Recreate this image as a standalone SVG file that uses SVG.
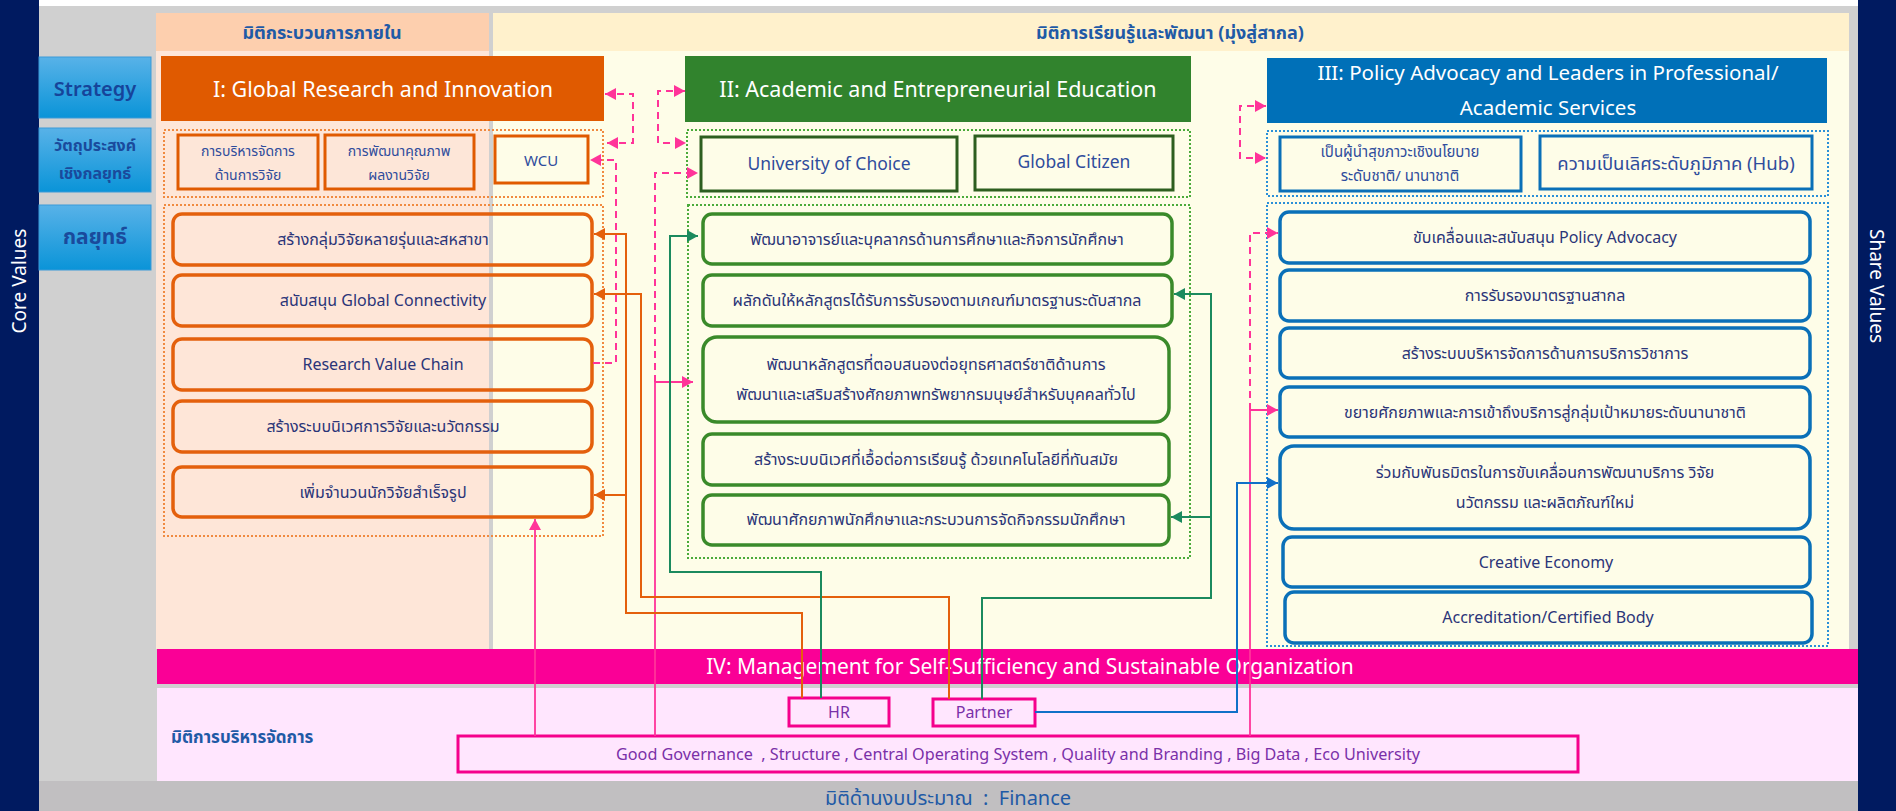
<svg xmlns="http://www.w3.org/2000/svg" width="1896" height="811" viewBox="0 0 1896 811">
<style>
text{font-family:"Noto Sans","Noto Sans Thai","Leelawadee UI",Tahoma,sans-serif;text-anchor:middle;dominant-baseline:central}
.hdr{fill:#1f5aa6;font-size:18px;font-weight:bold}
.lbl{fill:#1a4a9c;font-weight:bold}
.side{fill:#ffffff;font-size:19px}
.head{fill:#ffffff;font-size:21.5px}
.bx{font-size:16px;fill:#2b3578}
.ob{font-size:14px;fill:#2f4c9c}
.obo{fill:#fde6d8;stroke:#e05a00;stroke-width:3}
.obg{fill:#fefde8;stroke:#2d5e1f;stroke-width:3}
.obb{fill:#fefde8;stroke:#0a70b8;stroke-width:3}
.so{fill:none;stroke:#e4600c;stroke-width:3.5}
.sg{fill:none;stroke:#3a8a2a;stroke-width:3.5}
.sb{fill:none;stroke:#0a70b8;stroke-width:3.5}
.dto{fill:none;stroke:#f08a40;stroke-width:2;stroke-dasharray:2 2}
.dtg{fill:none;stroke:#4aaa3a;stroke-width:2;stroke-dasharray:2 2}
.dtb{fill:none;stroke:#2a90d8;stroke-width:2;stroke-dasharray:2 2}
.pk{fill:#ffe6fe;stroke:#f5008c;stroke-width:3}
.pt{font-size:16px;fill:#7a30a8}
.cpd{fill:none;stroke:#ff3399;stroke-width:2;stroke-dasharray:7 5}
.cps{fill:none;stroke:#ff3399;stroke-width:1.8}
.co{fill:none;stroke:#e4600c;stroke-width:2}
.cg{fill:none;stroke:#1b8a5e;stroke-width:2}
.cb{fill:none;stroke:#1070c8;stroke-width:2}
</style>
<defs>
<linearGradient id="lblg" x1="0" y1="0" x2="0" y2="1"><stop offset="0" stop-color="#58b2e8"/><stop offset="1" stop-color="#0a94d8"/></linearGradient>
<marker id="aP" markerUnits="userSpaceOnUse" markerWidth="12" markerHeight="12" refX="11" refY="6" orient="auto-start-reverse"><path d="M0,0 L11,6 L0,12 z" fill="#ff3399"/></marker>
<marker id="aO" markerUnits="userSpaceOnUse" markerWidth="12" markerHeight="12" refX="11" refY="6" orient="auto"><path d="M0,0 L11,6 L0,12 z" fill="#e4600c"/></marker>
<marker id="aG" markerUnits="userSpaceOnUse" markerWidth="12" markerHeight="12" refX="11" refY="6" orient="auto"><path d="M0,0 L11,6 L0,12 z" fill="#1b8a5e"/></marker>
<marker id="aB" markerUnits="userSpaceOnUse" markerWidth="12" markerHeight="12" refX="11" refY="6" orient="auto"><path d="M0,0 L11,6 L0,12 z" fill="#1070c8"/></marker>
</defs>

<!-- backgrounds -->
<rect x="0" y="0" width="1896" height="811" fill="#d0d0d0"/>
<rect x="39" y="0" width="1820" height="6" fill="#ffffff"/>
<rect x="39" y="781" width="1820" height="30" fill="#c1bfc1"/>
<rect x="0" y="0" width="39" height="811" fill="#001a60"/>
<rect x="1858" y="0" width="38" height="811" fill="#001a60"/>

<g id="dim-internal">
<rect x="156" y="13" width="333" height="38" fill="#fdcfae"/>
<rect x="156" y="51" width="333" height="598" fill="#fee6d8"/>
<text class="hdr" x="322" y="32">มิติกระบวนการภายใน</text>
</g>
<g id="dim-learning">
<rect x="493" y="13" width="1356" height="38" fill="#fff1cc"/>
<rect x="493" y="51" width="1356" height="598" fill="#fefde8"/>
<text class="hdr" x="1170" y="32">มิติการเรียนรู้และพัฒนา (มุ่งสู่สากล)</text>
</g>

<g id="side-core"><text class="side" transform="translate(19,281) rotate(-90)">Core Values</text></g>
<g id="side-share"><text class="side" transform="translate(1877,286) rotate(90)">Share Values</text></g>

<g id="lbl-strategy"><rect x="39" y="57" width="112" height="61" fill="url(#lblg)" stroke="#3a9ad8"/><text class="lbl" x="95" y="88" style="font-size:20px;font-weight:600;fill:#16449a">Strategy</text></g>
<g id="lbl-objective"><rect x="39" y="128" width="112" height="64" fill="url(#lblg)" stroke="#3a9ad8"/><text class="lbl" x="95" y="145" style="font-size:16px">วัตถุประสงค์</text><text class="lbl" x="95" y="173" style="font-size:16px">เชิงกลยุทธ์</text></g>
<g id="lbl-tactic"><rect x="39" y="205" width="112" height="65" fill="url(#lblg)" stroke="#3a9ad8"/><text class="lbl" x="95" y="236" style="font-size:21px">กลยุทธ์</text></g>

<!-- Strategy I -->
<g id="s1-head"><rect x="161" y="56" width="443" height="65" fill="#e05a00"/><text class="head" x="383" y="88">I: Global Research and Innovation</text></g>
<rect class="dto" x="164" y="130" width="439" height="67"/>
<g id="s1-o1"><rect class="obo" x="178" y="135" width="140" height="54"/><text class="ob" x="248" y="150">การบริหารจัดการ</text><text class="ob" x="248" y="174">ด้านการวิจัย</text></g>
<g id="s1-o2"><rect class="obo" x="325" y="135" width="149" height="54"/><text class="ob" x="399" y="150">การพัฒนาคุณภาพ</text><text class="ob" x="399" y="174">ผลงานวิจัย</text></g>
<g id="s1-wcu"><rect x="495" y="136" width="93" height="47" fill="#fefde8" stroke="#e05a00" stroke-width="3"/><text class="ob" x="541" y="160" style="font-size:15px">WCU</text></g>
<rect class="dto" x="164" y="205" width="439" height="331"/>
<g id="s1-a"><rect class="so" x="173" y="214" width="419" height="51" rx="9"/><text class="bx" x="383" y="239">สร้างกลุ่มวิจัยหลายรุ่นและสหสาขา</text></g>
<g id="s1-b"><rect class="so" x="173" y="275" width="419" height="51" rx="9"/><text class="bx" x="383" y="300">สนับสนุน Global Connectivity</text></g>
<g id="s1-c"><rect class="so" x="173" y="339" width="419" height="51" rx="9"/><text class="bx" x="383" y="364">Research Value Chain</text></g>
<g id="s1-d"><rect class="so" x="173" y="401" width="419" height="51" rx="9"/><text class="bx" x="383" y="426">สร้างระบบนิเวศการวิจัยและนวัตกรรม</text></g>
<g id="s1-e"><rect class="so" x="173" y="467" width="419" height="50" rx="9"/><text class="bx" x="383" y="492">เพิ่มจำนวนนักวิจัยสำเร็จรูป</text></g>

<!-- Strategy II -->
<g id="s2-head"><rect x="685" y="56" width="506" height="66" fill="#31832d"/><text class="head" x="938" y="88">II: Academic and Entrepreneurial Education</text></g>
<rect class="dtg" x="687" y="130" width="503" height="67"/>
<g id="s2-o1"><rect class="obg" x="701" y="137" width="256" height="54"/><text class="ob" x="829" y="163" style="font-size:17.5px">University of Choice</text></g>
<g id="s2-o2"><rect class="obg" x="975" y="136" width="198" height="54"/><text class="ob" x="1074" y="161" style="font-size:17.5px">Global Citizen</text></g>
<rect class="dtg" x="688" y="205" width="502" height="353"/>
<g id="s2-a"><rect class="sg" x="703" y="214" width="469" height="50" rx="9"/><text class="bx" x="937" y="239">พัฒนาอาจารย์และบุคลากรด้านการศึกษาและกิจการนักศึกษา</text></g>
<g id="s2-b"><rect class="sg" x="703" y="275" width="469" height="51" rx="9"/><text class="bx" x="937" y="300">ผลักดันให้หลักสูตรได้รับการรับรองตามเกณฑ์มาตรฐานระดับสากล</text></g>
<g id="s2-c"><rect class="sg" x="703" y="337" width="466" height="85" rx="14"/><text class="bx" x="936" y="364">พัฒนาหลักสูตรที่ตอบสนองต่อยุทธศาสตร์ชาติด้านการ</text><text class="bx" x="936" y="394">พัฒนาและเสริมสร้างศักยภาพทรัพยากรมนุษย์สำหรับบุคคลทั่วไป</text></g>
<g id="s2-d"><rect class="sg" x="703" y="434" width="466" height="51" rx="9"/><text class="bx" x="936" y="459">สร้างระบบนิเวศที่เอื้อต่อการเรียนรู้ ด้วยเทคโนโลยีที่ทันสมัย</text></g>
<g id="s2-e"><rect class="sg" x="703" y="495" width="466" height="50" rx="9"/><text class="bx" x="936" y="519">พัฒนาศักยภาพนักศึกษาและกระบวนการจัดกิจกรรมนักศึกษา</text></g>

<!-- Strategy III -->
<g id="s3-head"><rect x="1267" y="58" width="560" height="65" fill="#0070b8"/><text class="head" x="1548" y="72" style="font-size:20.5px">III: Policy Advocacy and Leaders in Professional/</text><text class="head" x="1548" y="107" style="font-size:20.5px">Academic Services</text></g>
<rect class="dtb" x="1267" y="131" width="561" height="65"/>
<g id="s3-o1"><rect class="obb" x="1280" y="137" width="241" height="54"/><text class="ob" x="1400" y="151" style="font-size:15px">เป็นผู้นำสุขภาวะเชิงนโยบาย</text><text class="ob" x="1400" y="175" style="font-size:15px">ระดับชาติ/ นานาชาติ</text></g>
<g id="s3-o2"><rect class="obb" x="1540" y="136" width="272" height="53"/><text class="ob" x="1676" y="162" style="font-size:18.5px">ความเป็นเลิศระดับภูมิภาค (Hub)</text></g>
<rect class="dtb" x="1267" y="203" width="561" height="443"/>
<g id="s3-a"><rect class="sb" x="1280" y="212" width="530" height="51" rx="9"/><text class="bx" x="1545" y="237">ขับเคลื่อนและสนับสนุน Policy Advocacy</text></g>
<g id="s3-b"><rect class="sb" x="1280" y="270" width="530" height="51" rx="9"/><text class="bx" x="1545" y="295">การรับรองมาตรฐานสากล</text></g>
<g id="s3-c"><rect class="sb" x="1280" y="328" width="530" height="50" rx="9"/><text class="bx" x="1545" y="353">สร้างระบบบริหารจัดการด้านการบริการวิชาการ</text></g>
<g id="s3-d"><rect class="sb" x="1280" y="387" width="530" height="50" rx="9"/><text class="bx" x="1545" y="412">ขยายศักยภาพและการเข้าถึงบริการสู่กลุ่มเป้าหมายระดับนานาชาติ</text></g>
<g id="s3-e"><rect class="sb" x="1280" y="446" width="530" height="83" rx="14"/><text class="bx" x="1545" y="472">ร่วมกับพันธมิตรในการขับเคลื่อนการพัฒนาบริการ วิจัย</text><text class="bx" x="1545" y="502">นวัตกรรม และผลิตภัณฑ์ใหม่</text></g>
<g id="s3-f"><rect class="sb" x="1283" y="537" width="527" height="50" rx="9"/><text class="bx" x="1546" y="562">Creative Economy</text></g>
<g id="s3-g"><rect class="sb" x="1285" y="592" width="527" height="51" rx="9"/><text class="bx" x="1548" y="617">Accreditation/Certified Body</text></g>

<!-- Management -->
<g id="s4-band"><rect x="157" y="649" width="1701" height="35" fill="#fa0096"/><text class="head" x="1030" y="666" style="font-size:21px">IV: Management for Self-Sufficiency and Sustainable Organization</text></g>
<g id="dim-management"><rect x="157" y="688" width="1701" height="93" fill="#ffe6fe"/><text x="171" y="736" style="text-anchor:start;font-size:17px;fill:#1f5aa6;font-weight:bold">มิติการบริหารจัดการ</text></g>
<g id="hr"><rect class="pk" x="789" y="698" width="100" height="28"/><text class="pt" x="839" y="712">HR</text></g>
<g id="partner"><rect class="pk" x="933" y="699" width="102" height="27"/><text class="pt" x="984" y="712">Partner</text></g>
<g id="governance"><rect class="pk" x="458" y="736" width="1120" height="36"/><text class="pt" x="1018" y="754" xml:space="preserve" style="white-space:pre;font-size:16.2px">Good Governance  , Structure , Central Operating System , Quality and Branding , Big Data , Eco University</text></g>
<g id="finance"><text x="948" y="797" xml:space="preserve" style="white-space:pre;font-size:20px;fill:#1f5aa6">มิติด้านงบประมาณ  :  Finance</text></g>

<g id="connectors">
<path class="cpd" d="M605,94 L633,94 L633,143 L607,143" marker-start="url(#aP)" marker-end="url(#aP)"/>
<path class="cpd" d="M685,91 L658,91 L658,143 L686,143" marker-start="url(#aP)" marker-end="url(#aP)"/>
<path class="cpd" d="M1266,106 L1240,106 L1240,158 L1266,158" marker-start="url(#aP)" marker-end="url(#aP)"/>
<path class="cpd" d="M593,363 L616,363 L616,160 L590,160" marker-end="url(#aP)"/>
<path class="cpd" d="M655,382 L655,173 L698,173" marker-end="url(#aP)"/>
<path class="cpd" d="M1250,410 L1250,233 L1278,233" marker-end="url(#aP)"/>
<path class="cps" d="M535,736 L535,519" marker-end="url(#aP)"/>
<path class="cps" d="M655,736 L655,382 L693,382" marker-end="url(#aP)"/>
<path class="cps" d="M1250,736 L1250,410 L1278,410" marker-end="url(#aP)"/>
<path class="co" d="M802,698 L802,613 L626,613 L626,234 L594,234" marker-end="url(#aO)"/>
<path class="co" d="M626,495 L594,495" marker-end="url(#aO)"/>
<path class="co" d="M949,699 L949,597 L641,597 L641,294 L594,294" marker-end="url(#aO)"/>
<path class="cg" d="M821,698 L821,572 L670,572 L670,236 L698,236" marker-end="url(#aG)"/>
<path class="cg" d="M982,699 L982,598 L1211,598 L1211,294 L1174,294" marker-end="url(#aG)"/>
<path class="cg" d="M1211,517 L1171,517" marker-end="url(#aG)"/>
<path class="cb" d="M1035,712 L1237,712 L1237,483 L1278,483" marker-end="url(#aB)"/>
</g>
</svg>
